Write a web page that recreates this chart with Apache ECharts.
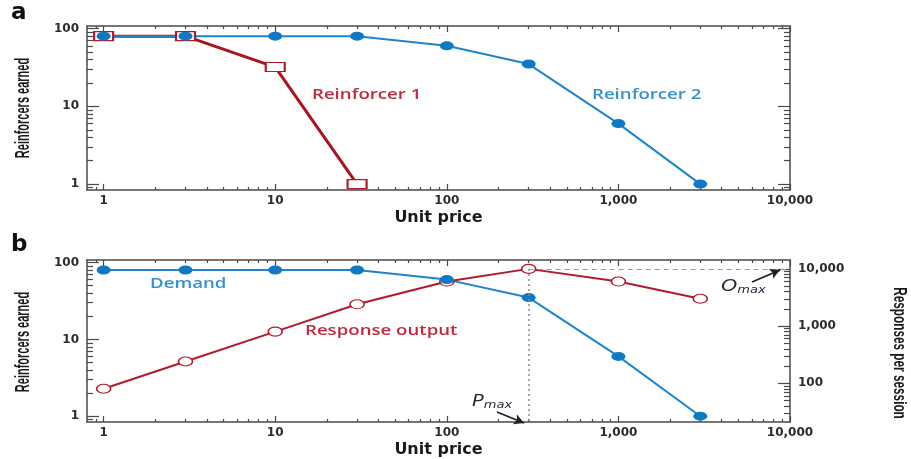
<!DOCTYPE html>
<html><head><meta charset="utf-8">
<script src="https://cdn.jsdelivr.net/npm/echarts@6/dist/echarts.min.js"></script>
<style>html,body{margin:0;padding:0;background:#fff}#c{width:911px;height:459px}</style>
</head><body><div id="c"></div>
<script>
// ---- data ----
const prices = [1, 3, 10, 30, 100, 300, 1000, 3000];
const reinforcer1 = [80, 80, 32, 1];
const reinforcer2 = [80, 80, 80, 80, 60, 35, 6, 1];
const demand = [80, 80, 80, 80, 60, 35, 6, 1];
const responseOutput = [80, 240, 800, 2400, 6000, 10000, 6000, 3000];

const xTicks = [1, 10, 100, 1000, 10000];
const xTickLabels = ['1', '10', '100', '1,000', '10,000'];
const xMinorTicks = [0.9, 2, 3, 4, 5, 6, 7, 8, 9, 20, 30, 40, 50, 60, 70, 80, 90,
  200, 300, 400, 500, 600, 700, 800, 900, 2000, 3000, 4000, 5000, 6000, 7000, 8000, 9000];
const yTicks = [1, 10, 100];
const yTickLabels = ['1', '10', '100'];
const yMinorTicks = [0.9, 2, 3, 4, 5, 6, 7, 8, 9, 20, 30, 40, 50, 60, 70, 80, 90];
const rTicks = [100, 1000, 10000];
const rTickLabels = ['100', '1,000', '10,000'];
const rMinorTicks = [30, 40, 50, 60, 70, 80, 90, 200, 300, 400, 500, 600, 700, 800, 900,
  2000, 3000, 4000, 5000, 6000, 7000, 8000, 9000];

// ---- style ----
const BLUE = '#0f79c3', BLUE_LINE = '#1d85cb', BLUE_TXT = '#3290d4';
const RED = '#b01a2c', RED_TXT = '#c02a3c';
const AX = '#4a4a4a';
const TICKFONT = { fontFamily: 'DejaVu Sans', fontWeight: 'bold', fontSize: 12, color: '#2b2b2b' };

const X_MIN = 0.8, X_MAX = 10000, Y_MIN = 0.84, Y_MAX = 108, R_MIN = 21, R_MAX = 14300;

function fmt(ticks, labels) { return v => { const i = ticks.findIndex(t => Math.abs(t - v) / t < 1e-6); return i >= 0 ? labels[i] : ''; }; }

function xAxes(g) {
  const base = { type: 'log', gridIndex: g, min: X_MIN, max: X_MAX, splitLine: { show: false } };
  return [
    Object.assign({}, base, { position: 'bottom',
      axisLine: { show: true, lineStyle: { color: AX, width: 1.5 } },
      axisTick: { show: true, inside: true, length: 6, customValues: xTicks, lineStyle: { color: AX, width: 1.2 } },
      axisLabel: Object.assign({ customValues: xTicks, formatter: fmt(xTicks, xTickLabels), margin: 5 }, TICKFONT),
      name: 'Unit price', nameLocation: 'middle', nameGap: 20,
      nameTextStyle: { fontFamily: 'DejaVu Sans', fontWeight: 'bold', fontSize: 16, color: '#1a1a1a' } }),
    Object.assign({}, base, { position: 'bottom', axisLine: { show: false },
      axisTick: { show: true, inside: true, length: 3, customValues: xMinorTicks, lineStyle: { color: AX, width: 1.2 } },
      axisLabel: { show: false } }),
    Object.assign({}, base, { position: 'top',
      axisLine: { show: true, lineStyle: { color: AX, width: 1.5 } },
      axisTick: { show: true, inside: true, length: 6, customValues: xTicks, lineStyle: { color: AX, width: 1.2 } },
      axisLabel: { show: false } }),
    Object.assign({}, base, { position: 'top', axisLine: { show: false },
      axisTick: { show: true, inside: true, length: 3, customValues: xMinorTicks, lineStyle: { color: AX, width: 1.2 } },
      axisLabel: { show: false } })
  ];
}

function yPair(g, pos, min, max, ticks, minor, labels) {
  const base = { type: 'log', gridIndex: g, min: min, max: max, position: pos, splitLine: { show: false } };
  const major = Object.assign({}, base, {
    axisLine: { show: true, lineStyle: { color: AX, width: 1.5 } },
    axisTick: { show: true, inside: true, length: 12, customValues: ticks, lineStyle: { color: AX, width: 1.2 } },
    axisLabel: labels ? Object.assign({ customValues: ticks, formatter: fmt(ticks, labels), margin: 8 }, TICKFONT) : { show: false }
  });
  const minorAx = Object.assign({}, base, { axisLine: { show: false },
    axisTick: { show: true, inside: true, length: 6, customValues: minor, lineStyle: { color: AX, width: 1.2 } },
    axisLabel: { show: false } });
  return [major, minorAx];
}

const pts = (xs, ys) => ys.map((y, i) => [xs[i], y]);
const pmaxIdx = responseOutput.indexOf(Math.max.apply(null, responseOutput));
const pmax = prices[pmaxIdx], omax = responseOutput[pmaxIdx];

function label(text, x, y, color, sx) {
  return { type: 'text', x: x, y: y, scaleX: sx || 1.4, z: 10,
    style: { text: text, font: '600 14px "Open Sans"', fill: color, align: 'left', verticalAlign: 'middle' } };
}
function axisTitle(text, x, y, rot, size, sx) {
  return { type: 'text', x: x, y: y, rotation: rot, scaleX: sx, z: 10,
    style: { text: text, font: 'bold ' + size + 'px "Liberation Sans"', fill: '#1a1a1a', align: 'center', verticalAlign: 'middle' } };
}
function sub(main, x, y, size) {
  return { type: 'text', x: x, y: y, scaleX: 1.3, z: 10,
    style: { text: '{a|' + main + '}{b|max}', verticalAlign: 'middle',
      rich: { a: { font: 'italic ' + size + 'px "DejaVu Sans"', fill: '#262a3a' },
              b: { font: 'italic 10px "DejaVu Sans"', fill: '#262a3a', padding: [6, 0, 0, 0] } } } };
}

const option = {
  animation: false,
  backgroundColor: '#fff',
  grid: [
    { left: 87, top: 26, width: 703, height: 164 },
    { left: 87, top: 260, width: 703, height: 164 }
  ],
  xAxis: [].concat(xAxes(0), xAxes(1)),
  yAxis: [].concat(
    yPair(0, 'left', Y_MIN, Y_MAX, yTicks, yMinorTicks, yTickLabels),
    yPair(0, 'right', Y_MIN, Y_MAX, yTicks, yMinorTicks, null),
    yPair(1, 'left', Y_MIN, Y_MAX, yTicks, yMinorTicks, yTickLabels),
    yPair(1, 'right', R_MIN, R_MAX, rTicks, rMinorTicks, rTickLabels)
  ),
  series: [
    { name: 'Reinforcer 1', type: 'line', xAxisIndex: 0, yAxisIndex: 0,
      data: pts(prices, reinforcer1), symbol: 'rect', symbolSize: [19, 9], showSymbol: true,
      itemStyle: { color: '#fff', borderColor: RED, borderWidth: 1.5 },
      lineStyle: { color: '#a8141f', width: 3 }, emphasis: { disabled: true } },
    { name: 'Reinforcer 2', type: 'line', xAxisIndex: 0, yAxisIndex: 0,
      data: pts(prices, reinforcer2), symbol: 'circle', symbolSize: [14, 9], showSymbol: true,
      itemStyle: { color: BLUE }, lineStyle: { color: BLUE_LINE, width: 2 }, emphasis: { disabled: true } },
    { name: 'Response output', type: 'line', xAxisIndex: 4, yAxisIndex: 6,
      data: pts(prices, responseOutput), symbol: 'circle', symbolSize: [14, 9], showSymbol: true,
      itemStyle: { color: '#fff', borderColor: RED, borderWidth: 1.3 },
      lineStyle: { color: RED, width: 2 }, emphasis: { disabled: true },
      markLine: { silent: true, symbol: 'none', label: { show: false },
        data: [
          [{ coord: [pmax, omax], lineStyle: { type: [5, 4], color: '#9a9a9a', width: 1 } }, { coord: [X_MAX, omax] }],
          [{ coord: [pmax, omax], lineStyle: { type: [2, 3], color: '#8a8a8a', width: 1.5 } }, { coord: [pmax, R_MIN] }]
        ] } },
    { name: 'Demand', type: 'line', xAxisIndex: 4, yAxisIndex: 4,
      data: pts(prices, demand), symbol: 'circle', symbolSize: [14, 9], showSymbol: true,
      itemStyle: { color: BLUE }, lineStyle: { color: BLUE_LINE, width: 2 }, emphasis: { disabled: true },
      markLine: { silent: true, symbol: ['none', 'arrow'], symbolSize: [8, 10], label: { show: false },
        lineStyle: { type: 'solid', color: '#1e1e1e', width: 1.8 },
        data: [
          [{ x: 752, y: 282 }, { x: 780, y: 270 }],
          [{ x: 497, y: 412 }, { x: 524, y: 423 }]
        ] } }
  ],
  graphic: [
    { type: 'text', left: 11, top: 2, style: { text: 'a', font: 'bold 23px "DejaVu Sans"', fill: '#111' } },
    { type: 'text', left: 11, top: 234, style: { text: 'b', font: 'bold 23px "DejaVu Sans"', fill: '#111' } },
    axisTitle('Reinforcers earned', 23, 108, Math.PI / 2, 20, 0.55),
    axisTitle('Reinforcers earned', 23, 342, Math.PI / 2, 20, 0.55),
    axisTitle('Responses per session', 899, 353, -Math.PI / 2, 19, 0.62),
    label('Reinforcer 1', 312, 95, RED_TXT, 1.33),
    label('Reinforcer 2', 592, 95, BLUE_TXT, 1.33),
    label('Demand', 150, 284, BLUE_TXT, 1.33),
    label('Response output', 305, 331, RED_TXT, 1.33),
    sub('O', 721, 287, 16),
    sub('P', 472, 402, 15)
  ]
};
echarts.init(document.getElementById('c')).setOption(option);
</script></body></html>
